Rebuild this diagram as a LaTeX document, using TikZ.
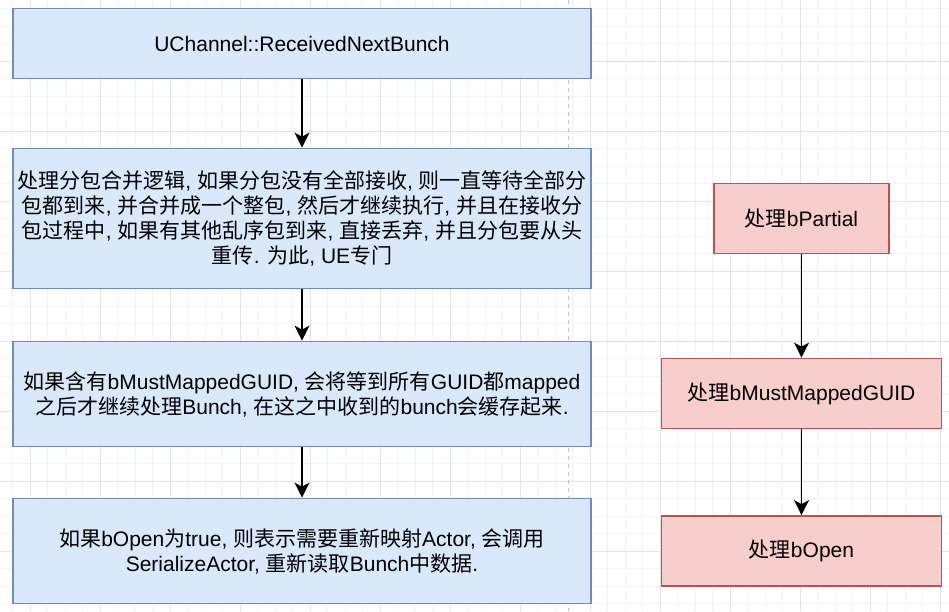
\documentclass[tikz,border=0pt]{standalone}
\usepackage{fontspec}
\setmainfont{Liberation Sans}
\newfontfamily\cjkfont{Noto Sans CJK SC}
\newcommand\zhs[1]{{\cjkfont #1}}
\usetikzlibrary{arrows.meta}
\definecolor{bluefill}{HTML}{DAE8FC}
\definecolor{bluedraw}{HTML}{6C8EBF}
\definecolor{redfill}{HTML}{F8CECC}
\definecolor{reddraw}{HTML}{B85450}
\definecolor{gridminor}{HTML}{F3F3F3}
\definecolor{gridmajor}{HTML}{E4E4E4}
\definecolor{pagebreak}{HTML}{C0C0C0}
\begin{document}
\begin{tikzpicture}[x=1pt,y=-1pt,
  box/.style={rectangle, inner sep=0pt, line width=1.75pt, align=center,
    font=\fontsize{21}{25}\selectfont, text=black},
  bluebox/.style={box, fill=bluefill, draw=bluedraw},
  redbox/.style={box, fill=redfill, draw=reddraw},
  arr/.style={line width=1.75pt, -{Stealth[length=15pt,width=15pt,inset=4pt]}}]
\useasboundingbox (0,0) rectangle (949,611);
\fill[white] (0,0) rectangle (949,611);
% grid
\foreach \i in {0,...,53} \draw[gridminor, line width=1pt] (12.5+17.5*\i,0) -- (12.5+17.5*\i,611);
\foreach \j in {0,...,34} \draw[gridminor, line width=1pt] (0,8.5+17.5*\j) -- (949,8.5+17.5*\j);
\foreach \i in {0,...,13} \draw[gridmajor, line width=1pt] (30+70*\i,0) -- (30+70*\i,611);
\foreach \j in {0,...,7} \draw[gridmajor, line width=1pt] (0,61+70*\j) -- (949,61+70*\j);
\draw[pagebreak, line width=1pt, dash pattern=on 4pt off 4pt] (568,0) -- (568,611);
% left column
\node[bluebox, minimum width=577.5pt, minimum height=70pt] (b1) at (302,43.5) {UChannel::ReceivedNextBunch};
\node[bluebox, minimum width=577.5pt, minimum height=140pt] (b2) at (302,218.5) {%
\zhs{处理分包合并逻辑}, \zhs{如果分包没有全部接收}, \zhs{则一直等待全部分}\\
\zhs{包都到来}, \zhs{并合并成一个整包}, \zhs{然后才继续执行}, \zhs{并且在接收分}\\
\zhs{包过程中}, \zhs{如果有其他乱序包到来}, \zhs{直接丢弃}, \zhs{并且分包要从头}\\
\zhs{重传}. \zhs{为此}, UE\zhs{专门}};
\node[bluebox, minimum width=577.5pt, minimum height=105pt] (b3) at (302,394) {%
\zhs{如果含有}bMustMappedGUID, \zhs{会将等到所有}GUID\zhs{都}mapped\\
\zhs{之后才继续处理}Bunch, \zhs{在这之中收到的}bunch\zhs{会缓存起来}.};
\node[bluebox, minimum width=577.5pt, minimum height=105pt] (b4) at (302,551) {%
\zhs{如果}bOpen\zhs{为}true, \zhs{则表示需要重新映射}Actor, \zhs{会调用}\\
SerializeActor, \zhs{重新读取}Bunch\zhs{中数据}.};
% right column
\node[redbox, minimum width=175pt, minimum height=70pt] (r1) at (801.5,218.5) {\zhs{处理}bPartial};
\node[redbox, minimum width=280pt, minimum height=70pt] (r2) at (801.5,393.5) {\zhs{处理}bMustMappedGUID};
\node[redbox, minimum width=280pt, minimum height=70pt] (r3) at (801.5,551) {\zhs{处理}bOpen};
% connectors
\draw[arr] (b1) -- (b2);
\draw[arr] (b2) -- (b3);
\draw[arr] (b3) -- (b4);
\draw[arr] (r1) -- (r2);
\draw[arr] (r2) -- (r3);
\end{tikzpicture}
\end{document}
